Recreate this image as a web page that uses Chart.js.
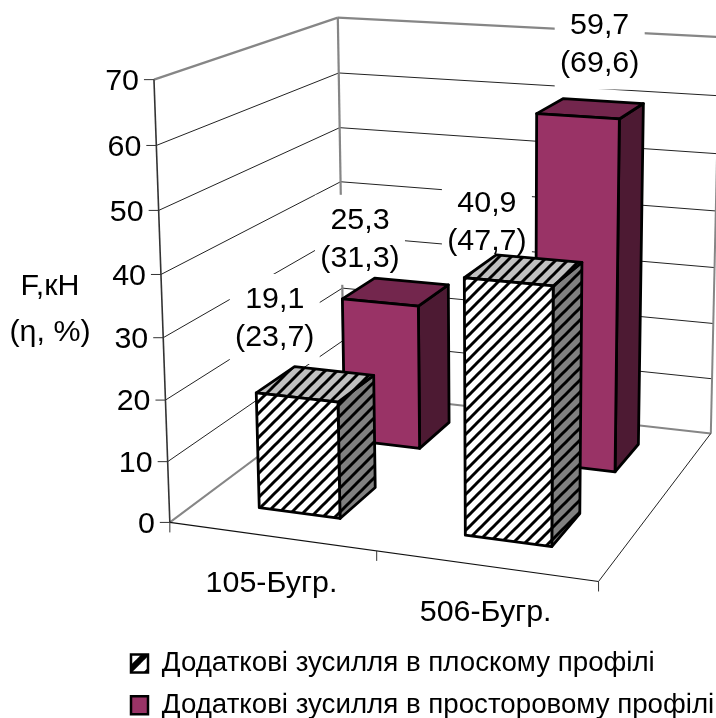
<!DOCTYPE html>
<html>
<head>
<meta charset="utf-8">
<style>
  html, body { margin: 0; padding: 0; background: #fff; }
  #wrap { width: 716px; height: 718px; }
</style>
<script src="https://cdn.jsdelivr.net/npm/chart.js@4"></script>
</head>
<body>
<div id="wrap"><canvas id="grafico"></canvas></div>
<script>
const categorias = ['105-Бугр.', '506-Бугр.'];
const nomes_series = ['Додаткові зусилля в плоскому профілі', 'Додаткові зусилля в просторовому профілі'];
const plano = [19.1, 40.9];
const espacial = [25.3, 59.7];
const plano_pct = ['23,7', '47,7'];
const espacial_pct = ['31,3', '69,6'];
const plano_txt = ['19,1', '40,9'];
const espacial_txt = ['25,3', '59,7'];
const titulo_y = ['F,кН', '(η, %)'];
const y_max = 70;

const FONTE = '"Liberation Sans", Arial, sans-serif';

// where the 3D box lands on the page: [u, value, depth] -> [px, py]
const calibracao = [
  [0, 0, 0, 170, 521], [1, 0, 0, 599, 582], [0.5, 0, 0, 377, 551],
  [0, 70, 0, 153, 80], [0, 40, 0, 161, 275],
  [0, 0, 1, 343, 393], [1, 0, 1, 711, 433],
  [0, 70, 1, 339, 17], [1, 70, 1, 719, 37], [0, 40, 1, 341, 182]
];
// depth slot of each series
const profundidade = [[0.15, 0.36], [0.65, 0.86]];
// label box centre, relative to the projected centre of the bar top
const desloc_rotulo = [[[-41, -65], [-37, -47]], [[-36, -52], [9, -64]]];

function resolver(A, b) {
  const n = b.length;
  for (let i = 0; i < n; i++) {
    let p = i;
    for (let k = i + 1; k < n; k++) if (Math.abs(A[k][i]) > Math.abs(A[p][i])) p = k;
    [A[i], A[p]] = [A[p], A[i]];
    [b[i], b[p]] = [b[p], b[i]];
    for (let k = i + 1; k < n; k++) {
      const f = A[k][i] / A[i][i];
      for (let j = i; j < n; j++) A[k][j] -= f * A[i][j];
      b[k] -= f * b[i];
    }
  }
  const x = new Array(n);
  for (let i = n - 1; i >= 0; i--) {
    let s = b[i];
    for (let j = i + 1; j < n; j++) s -= A[i][j] * x[j];
    x[i] = s / A[i][i];
  }
  return x;
}

// least squares fit of the camera
function ajustarCamera() {
  const ATA = Array.from({ length: 11 }, () => new Array(11).fill(0));
  const ATb = new Array(11).fill(0);
  const soma = (l, r) => {
    for (let i = 0; i < 11; i++) {
      ATb[i] += l[i] * r;
      for (let j = 0; j < 11; j++) ATA[i][j] += l[i] * l[j];
    }
  };
  calibracao.forEach(([u, v, w, px, py]) => {
    const Y = v / y_max;
    soma([u, Y, w, 1, 0, 0, 0, 0, -px * u, -px * Y, -px * w], px);
    soma([0, 0, 0, 0, u, Y, w, 1, -py * u, -py * Y, -py * w], py);
  });
  return resolver(ATA, ATb);
}
const cam = ajustarCamera();

function projetar(u, v, w) {
  const Y = v / y_max;
  const d = cam[8] * u + cam[9] * Y + cam[10] * w + 1;
  return [
    (cam[0] * u + cam[1] * Y + cam[2] * w + cam[3]) / d,
    (cam[4] * u + cam[5] * Y + cam[6] * w + cam[7]) / d
  ];
}

function hachura(fundo, passo, grossura) {
  const c = document.createElement('canvas');
  c.width = c.height = passo;
  const g = c.getContext('2d');
  g.fillStyle = fundo;
  g.fillRect(0, 0, passo, passo);
  g.strokeStyle = '#000';
  g.lineWidth = grossura;
  [-passo, 0, passo].forEach(d => {
    g.beginPath();
    g.moveTo(d - 2, passo + 2);
    g.lineTo(d + passo + 2, -2);
    g.stroke();
  });
  return g.createPattern(c, 'repeat');
}

const ctx = document.getElementById('grafico').getContext('2d');
const hach_frente = hachura('#fff', 12, 3);
const hach_topo = hachura('#c0c0c0', 12, 3);
const hach_lado = hachura('#808080', 12, 3);
const hach_legenda = hachura('#fff', 20, 6);

const cores_barra = [
  { frente: hach_frente, topo: hach_topo, lado: hach_lado },
  { frente: '#993366', topo: '#73264d', lado: '#4d1a33' }
];

function linha3d(g, a, b, cor, larg) {
  const p = projetar(...a), q = projetar(...b);
  g.beginPath();
  g.moveTo(p[0], p[1]);
  g.lineTo(q[0], q[1]);
  g.strokeStyle = cor;
  g.lineWidth = larg;
  g.stroke();
}

function face(g, pts, fill) {
  g.beginPath();
  pts.forEach((p, i) => {
    const q = projetar(...p);
    if (i) g.lineTo(q[0], q[1]); else g.moveTo(q[0], q[1]);
  });
  g.closePath();
  g.fillStyle = fill;
  g.fill();
  g.strokeStyle = '#000';
  g.lineWidth = 2.8;
  g.lineJoin = 'round';
  g.stroke();
}

const caixa3d = {
  id: 'caixa3d',
  beforeDatasetsDraw(chart) {
    const g = chart.ctx;
    const a = chart.chartArea;
    const sy = chart.scales.y, sx = chart.scales.x;
    const paraU = px => (px - a.left) / a.width;
    g.save();
    g.font = '30.4px ' + FONTE;
    g.fillStyle = '#000';

    // walls
    sy.ticks.forEach(t => {
      if (t.value === 0 || t.value === y_max) return;
      linha3d(g, [0, t.value, 0], [0, t.value, 1], '#222', 1);
      linha3d(g, [0, t.value, 1], [1, t.value, 1], '#222', 1);
    });
    linha3d(g, [0, y_max, 0], [0, y_max, 1], '#868686', 2.2);
    linha3d(g, [0, y_max, 1], [1, y_max, 1], '#868686', 2.2);
    linha3d(g, [0, 0, 1], [0, y_max, 1], '#868686', 2.2);
    linha3d(g, [1, 0, 1], [1, y_max, 1], '#868686', 2);
    linha3d(g, [0, 0, 0], [0, 0, 1], '#868686', 2);
    linha3d(g, [0, 0, 1], [1, 0, 1], '#868686', 2);
    linha3d(g, [1, 0, 0], [1, 0, 1], '#222', 1);
    linha3d(g, [0, 0, 0], [1, 0, 0], '#111', 1.2);
    linha3d(g, [0, 0, 0], [0, y_max, 0], '#333', 1.6);

    // value axis
    sy.ticks.forEach(t => {
      const p = projetar(0, t.value, 0);
      g.beginPath();
      g.moveTo(p[0] - 10, p[1]);
      g.lineTo(p[0], p[1]);
      g.strokeStyle = '#333';
      g.lineWidth = 1;
      g.stroke();
      g.textAlign = 'right';
      g.textBaseline = 'middle';
      g.fillText(String(t.value), p[0] - 15, p[1] + 2);
    });

    // category axis
    [0, 0.5, 1].forEach(u => {
      const p = projetar(u, 0, 0);
      g.beginPath();
      g.moveTo(p[0], p[1]);
      g.lineTo(p[0], p[1] + 10);
      g.strokeStyle = '#333';
      g.lineWidth = 1;
      g.stroke();
    });
    sx.getLabels().forEach((lab, i) => {
      const p = projetar(paraU(sx.getPixelForValue(i)), 0, 0);
      g.textAlign = 'center';
      g.fillText(lab, p[0], p[1] + 47);
    });

    // axis title
    g.textAlign = 'center';
    g.fillText(titulo_y[0], 50, 287);
    g.fillText(titulo_y[1], 50, 333);

    // data labels, their white box hides the grid
    const textos = [plano_txt, espacial_txt], pcts = [plano_pct, espacial_pct];
    [1, 0].forEach(s => {
      chart.getDatasetMeta(s).data.forEach((el, i) => {
        const u = paraU(el.x);
        const v = sy.getValueForPixel(el.y);
        const c = projetar(u, v, (profundidade[s][0] + profundidade[s][1]) / 2);
        const x = c[0] + desloc_rotulo[s][i][0], y = c[1] + desloc_rotulo[s][i][1];
        g.fillStyle = '#fff';
        g.fillRect(x - 45, y - 45, 90, 90);
        g.fillStyle = '#000';
        g.fillText(textos[s][i], x, y - 19);
        g.fillText('(' + pcts[s][i] + ')', x, y + 19);
      });
    });

    // bars, back series first
    [1, 0].forEach(s => {
      const [w0, w1] = profundidade[s];
      chart.getDatasetMeta(s).data.forEach(el => {
        const u0 = paraU(el.x - el.width / 2), u1 = paraU(el.x + el.width / 2);
        const v = sy.getValueForPixel(el.y);
        const c = cores_barra[s];
        face(g, [[u1, 0, w0], [u1, 0, w1], [u1, v, w1], [u1, v, w0]], c.lado);
        face(g, [[u0, v, w0], [u1, v, w0], [u1, v, w1], [u0, v, w1]], c.topo);
        face(g, [[u0, 0, w0], [u1, 0, w0], [u1, v, w0], [u0, v, w0]], c.frente);
      });
    });
    g.restore();
    return false; // the flat bars are replaced by the ones above
  }
};

new Chart(ctx, {
  type: 'bar',
  data: {
    labels: categorias,
    datasets: [
      { label: nomes_series[0], data: plano, backgroundColor: hach_frente, borderColor: '#000', borderWidth: 2.5 },
      { label: nomes_series[1], data: espacial, backgroundColor: '#993366', borderColor: '#000', borderWidth: 2.5 }
    ]
  },
  options: {
    responsive: true,
    maintainAspectRatio: false,
    animation: false,
    devicePixelRatio: 1,
    datasets: { bar: { grouped: false, barPercentage: 0.4, categoryPercentage: 1 } },
    layout: { padding: { left: 117, bottom: -11 } },
    scales: {
      x: { display: false },
      y: { display: false, min: 0, max: y_max, ticks: { stepSize: 10 } }
    },
    plugins: {
      tooltip: { enabled: false },
      legend: {
        position: 'bottom',
        align: 'start',
        labels: {
          color: '#000',
          font: { family: FONTE, size: 27.7 },
          boxWidth: 17,
          boxHeight: 18,
          padding: 14,
          generateLabels(chart) {
            const itens = Chart.defaults.plugins.legend.labels.generateLabels(chart);
            itens[0].fillStyle = hach_legenda;
            return itens;
          }
        }
      }
    }
  },
  plugins: [caixa3d]
});
</script>
</body>
</html>
